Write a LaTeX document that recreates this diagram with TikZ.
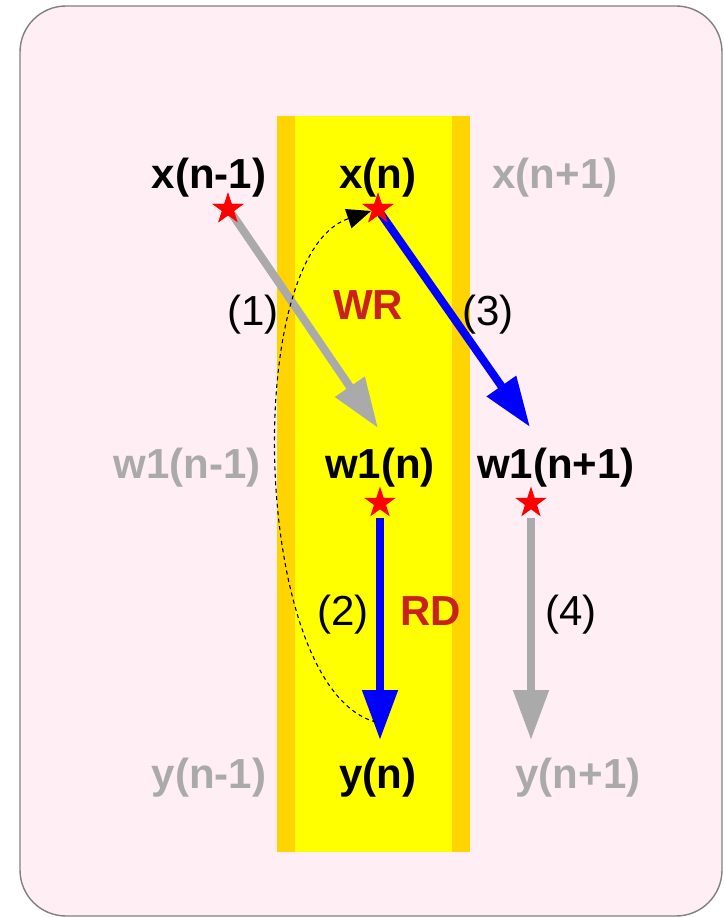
\documentclass[tikz,border=0pt]{standalone}
\usepackage{fontspec}
\setmainfont{Liberation Sans}
\usetikzlibrary{arrows.meta,shapes.geometric}
\definecolor{bgpink}{HTML}{FFEEF4}
\definecolor{framegray}{HTML}{808080}
\definecolor{bandgold}{HTML}{FFD400}
\definecolor{bandyellow}{HTML}{FFFF00}
\definecolor{txtgray}{HTML}{AAAAAA}
\definecolor{arrgray}{HTML}{AAAAAA}
\definecolor{labred}{HTML}{C9211E}
\tikzset{
  lbl/.style={anchor=base, inner sep=0pt, font=\fontsize{42}{48}\selectfont\bfseries},
  lblgray/.style={lbl, text=txtgray},
  num/.style={anchor=base, inner sep=0pt, font=\fontsize{42}{48}\selectfont},
  redlbl/.style={anchor=base, inner sep=0pt, font=\fontsize{42}{48}\selectfont\bfseries, text=labred},
  redstar/.style={star, star points=5, star point ratio=2.6, fill=red, draw=none, minimum size=33pt, inner sep=0pt},
  bigarrow/.style={line width=8pt, -{Triangle[width=34pt,length=50pt]}},
  bluearrow/.style={bigarrow, draw=blue, fill=blue},
  grayarrow/.style={bigarrow, draw=arrgray, fill=arrgray},
  flow/.style={dashed, dash pattern=on 4pt off 3.5pt, line width=1.1pt, -{Triangle[width=20pt,length=24pt]}}
}
\begin{document}
\begin{tikzpicture}[x=1pt,y=-1pt]
\useasboundingbox (0,0) rectangle (723,917);
% frame
\draw[fill=bgpink, draw=framegray, line width=1.4pt, rounded corners=46pt] (20,6) rectangle (722,916);
% band
\fill[bandgold] (277,116) rectangle (470,852);
\fill[bandyellow] (295,116) rectangle (452,852);
% texts
\node[lbl] (xa) at (209,189) {x(n-1)};
\node[lbl] (xb) at (378,189) {x(n)};
\node[lblgray] (xc) at (555,189) {x(n+1)};
\node[lblgray] (wa) at (187,478) {w1(n-1)};
\node[lbl] (wb) at (380,478) {w1(n)};
\node[lbl] (wc) at (556,478) {w1(n+1)};
\node[lblgray] (ya) at (209,788) {y(n-1)};
\node[lbl] (yb) at (378,788) {y(n)};
\node[lblgray] (yc) at (578,788) {y(n+1)};
% stars
\node[redstar] (sxa) at (228,209) {};
\node[redstar] (sxb) at (378,209) {};
\node[redstar] (swb) at (380,503) {};
\node[redstar] (swc) at (531,503) {};
% tip coordinates
\coordinate (t1) at (378,428);
\coordinate (t3) at (530,427);
\coordinate (t2) at (380,740);
\coordinate (t4) at (531,740);
\coordinate (s1) at (232,214);
\coordinate (s3) at (381,214);
\coordinate (s2) at (380,518);
\coordinate (s4) at (531,518);
\coordinate (f0) at (376,722);
\coordinate (f1) at (371,211);
% arrows
\draw[grayarrow] (s1) -- (t1);
\draw[bluearrow] (s3) -- (t3);
\draw[bluearrow] (s2) -- (t2);
\draw[grayarrow] (s4) -- (t4);
\draw[flow] (f0) .. controls (252,690) and (240,255) .. (f1);
% stars on top
\node[redstar] at (sxa) {};
\node[redstar] at (sxb) {};
% labels
\node[num] (n1) at (253,325) {(1)};
\node[num] (n3) at (488,325) {(3)};
\node[num] (n2) at (343,625) {(2)};
\node[num] (n4) at (571,625) {(4)};
\node[redlbl] (wr) at (368,319) {WR};
\node[redlbl] (rd) at (431,625) {RD};
\end{tikzpicture}
\end{document}
